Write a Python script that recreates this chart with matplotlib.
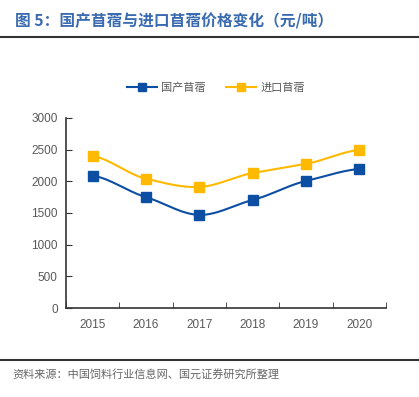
import numpy as np
import matplotlib.pyplot as plt
from matplotlib.lines import Line2D

plt.rcParams['font.family'] = ['Noto Sans CJK SC', 'DejaVu Sans']

years = ['2015', '2016', '2017', '2018', '2019', '2020']
domestic = [2090, 1750, 1470, 1705, 2005, 2195]
imported = [2400, 2040, 1910, 2130, 2275, 2495]
yticks = [0, 500, 1000, 1500, 2000, 2500, 3000]

BLUE = '#0B4EA2'
YELLOW = '#FFB900'
GRAY = '#595959'


def smooth(x, y, n=30):
    # catmull-rom style curve through the points, only for drawing
    x = np.asarray(x, float)
    y = np.asarray(y, float)
    xs, ys = [], []
    for i in range(len(x) - 1):
        p0 = y[i - 1] if i > 0 else y[i]
        p3 = y[i + 2] if i + 2 < len(y) else y[i + 1]
        m1 = (y[i + 1] - p0) / 2 * 0.8
        m2 = (p3 - y[i]) / 2 * 0.8
        t = np.linspace(0, 1, n)
        h00 = 2 * t**3 - 3 * t**2 + 1
        h10 = t**3 - 2 * t**2 + t
        h01 = -2 * t**3 + 3 * t**2
        h11 = t**3 - t**2
        xs.append(x[i] + t * (x[i + 1] - x[i]))
        ys.append(h00 * y[i] + h10 * m1 + h01 * y[i + 1] + h11 * m2)
    return np.concatenate(xs), np.concatenate(ys)


fig = plt.figure(figsize=(4.19, 3.97), dpi=100)
ax = fig.add_axes([0.1575, 0.224, 0.7635, 0.479])

xpos = np.arange(len(years))
for vals, col in [(domestic, BLUE), (imported, YELLOW)]:
    sx, sy = smooth(xpos, vals)
    ax.plot(sx, sy, color=col, lw=1.5, zorder=2)
    ax.plot(xpos, vals, 's', color=col, ms=7, zorder=3)

ax.set_xlim(-0.5, len(years) - 0.5)
ax.set_ylim(0, 3000)
ax.set_yticks(yticks)
ax.set_xticks(xpos)
ax.set_xticklabels(years)
ax.set_xticks(np.arange(-0.5, len(years)), minor=True)
ax.tick_params(axis='x', which='major', length=0, pad=8, labelsize=8.5, labelcolor=GRAY)
ax.tick_params(axis='x', which='minor', direction='in', length=4, color='#333333')
ax.tick_params(axis='y', direction='in', length=4, color='#333333', labelsize=8.5,
               labelcolor=GRAY, pad=6)
for lab in ax.get_xticklabels() + ax.get_yticklabels():
    lab.set_family('Liberation Sans')
for s in ['top', 'right']:
    ax.spines[s].set_visible(False)
for s in ['left', 'bottom']:
    ax.spines[s].set_color('#333333')
    ax.spines[s].set_linewidth(1.2)

handles = [Line2D([], [], color=BLUE, marker='s', ms=6, lw=1.5),
           Line2D([], [], color=YELLOW, marker='s', ms=6, lw=1.5)]
fig.legend(handles, ['国产苜蓿', '进口苜蓿'], loc='center', bbox_to_anchor=(0.515, 0.778),
           ncol=2, frameon=False, fontsize=8, handlelength=2.7, handletextpad=0.4,
           columnspacing=1.8, labelcolor=GRAY)

fig.text(0.035, 0.945, '图 5：国产苜蓿与进口苜蓿价格变化（元/吨）', fontsize=11.3,
         fontweight='bold', color='#3A6BB0', va='center')
fig.add_artist(Line2D([0, 1], [0.907, 0.907], color='#333333', lw=1.5))
fig.add_artist(Line2D([0, 1], [0.093, 0.093], color='#333333', lw=1.5))
fig.text(0.03, 0.058, '资料来源：中国饲料行业信息网、国元证券研究所整理', fontsize=8,
         color='#666666', va='center')

fig.savefig('out.png', dpi=100)
